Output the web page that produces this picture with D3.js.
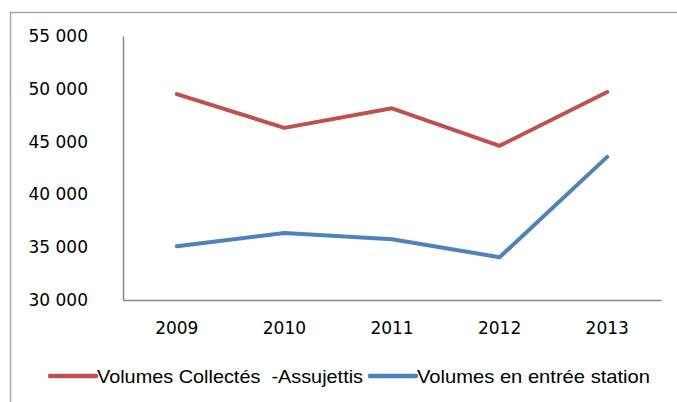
<!DOCTYPE html>
<html>
<head>
<meta charset="utf-8">
<script src="https://cdn.jsdelivr.net/npm/d3@7"></script>
<style>
  body { margin: 0; background: #fff; }
  svg { display: block; }
</style>
</head>
<body>
<svg id="chart" width="677" height="402"></svg>
<script>
// data
var years = ["2009", "2010", "2011", "2012", "2013"];
var collectes = [49500, 46300, 48150, 44600, 49700];
var entreeStation = [35100, 36350, 35750, 34050, 43550];
var yTicks = [30000, 35000, 40000, 45000, 50000, 55000];
var seriesNames = ["Volumes Collectés  -Assujettis", "Volumes en entrée station"];
var seriesColors = ["#C0504D", "#4F81BD"];

var svg = d3.select("#chart");

// outer frame (runs off the right and bottom edge)
svg.append("rect")
    .attr("x", 10.5).attr("y", 12.5)
    .attr("width", 700).attr("height", 420)
    .attr("fill", "none").attr("stroke", "#a6a6a6").attr("stroke-width", 1.5);

var x = d3.scaleBand().domain(years).range([123, 661]);
var y = d3.scaleLinear().domain([30000, 55000]).range([300, 36]);

var fmt = function(v){
    return d3.format(",")(v).replace(",", " ");
};

// y axis
var yAxis = svg.append("g")
    .attr("transform", "translate(123,0)")
    .call(d3.axisLeft(y).tickValues(yTicks).tickSize(0).tickPadding(35).tickFormat(fmt));
yAxis.select(".domain").attr("stroke", "#868686").attr("stroke-width", 1.5);
yAxis.selectAll("text")
    .attr("font-family", "DejaVu Sans").attr("font-size", 17).attr("fill", "#000");

// x axis
var xAxis = svg.append("g")
    .attr("transform", "translate(0,300)")
    .call(d3.axisBottom(x).tickSize(0).tickPadding(22));
xAxis.select(".domain").attr("stroke", "#868686").attr("stroke-width", 1.5);
xAxis.selectAll("text")
    .attr("font-family", "DejaVu Sans").attr("font-size", 17).attr("fill", "#000");

var line = d3.line()
    .x(function(d, i){ return x(years[i]) + x.bandwidth() / 2; })
    .y(function(d){ return y(d); });

[collectes, entreeStation].forEach(function(s, k){
    svg.append("path")
        .datum(s)
        .attr("d", line)
        .attr("fill", "none")
        .attr("stroke", seriesColors[k])
        .attr("stroke-width", 4)
        .attr("stroke-linecap", "round")
        .attr("stroke-linejoin", "round");
});

// legend
var legendX = [50, 370];
var legendW = [266, 233];
seriesNames.forEach(function(name, k){
    var g = svg.append("g").attr("transform", "translate(" + legendX[k] + ",376)");
    g.append("line")
        .attr("x1", 0).attr("x2", 46)
        .attr("stroke", seriesColors[k]).attr("stroke-width", 4.5)
        .attr("stroke-linecap", "round");
    g.append("text")
        .attr("x", 47).attr("y", 7)
        .attr("font-family", "Liberation Sans").attr("font-size", 19)
        .attr("textLength", legendW[k]).attr("lengthAdjust", "spacingAndGlyphs")
        .attr("xml:space", "preserve")
        .style("white-space", "pre")
        .text(name);
});
</script>
</body>
</html>
